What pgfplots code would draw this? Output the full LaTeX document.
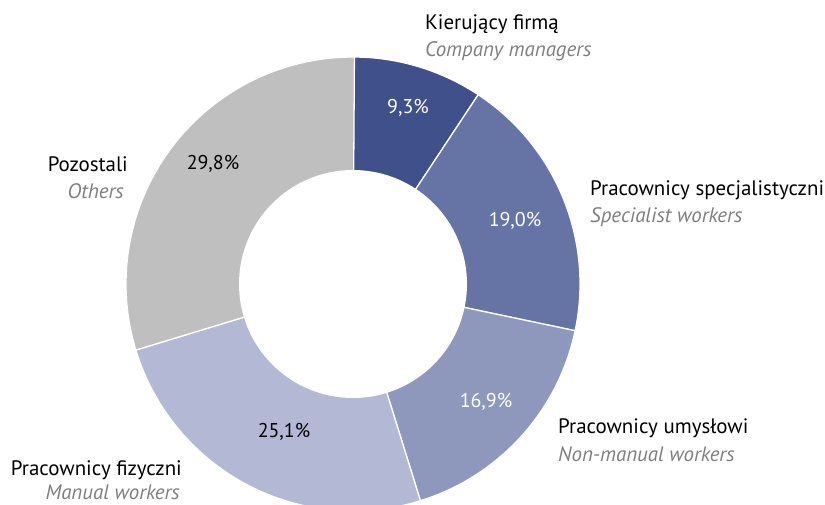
\documentclass[border=0pt]{standalone}
\usepackage{pgfplots}
\usepackage{pgfplotstable}
\pgfplotsset{compat=1.18}
\usepackage{fontspec}
\setmainfont{PT Sans}
\definecolor{c0}{HTML}{3F508B}
\definecolor{c1}{HTML}{6574A5}
\definecolor{c2}{HTML}{8E98BD}
\definecolor{c3}{HTML}{B3B9D5}
\definecolor{c4}{HTML}{BFBFBF}
\definecolor{subgray}{HTML}{7F7F7F}
\pgfplotstableread{
value
9.3
19.0
16.9
25.1
29.8
}\shares
\begin{document}
\begin{tikzpicture}[font=\fontsize{21}{24}\selectfont]
\begin{axis}[
  width=825bp, height=505bp, scale only axis,
  xmin=0, xmax=825, ymin=0, ymax=505,
  hide axis, clip=true,
]
\addplot[draw=none] coordinates {(0,0) (825,505)};
\xdef\cum{0}
\pgfplotsinvokeforeach{0,...,4}{
  \pgfplotstablegetelem{#1}{value}\of\shares
  \pgfmathsetmacro\va{90-3.6*\cum}
  \pgfmathsetmacro\cumn{\cum+\pgfplotsretval}
  \pgfmathsetmacro\vb{90-3.6*\cumn}
  \xdef\cum{\cumn}
  \edef\tmp{\noexpand\filldraw[fill=c#1,draw=white,line width=1.3pt] (axis cs:353,221) -- ++(\va:227bp) arc[start angle=\va,end angle=\vb,radius=227bp] -- cycle;}
  \tmp
}
\fill[white] (axis cs:353,221) circle[radius=114bp];
% percentage labels
\begin{scope}[font=\fontsize{20}{23}\selectfont]
\node[white] at (axis cs:408,397) {9,3\%};
\node[white] at (axis cs:515,284) {19,0\%};
\node[white] at (axis cs:486,103) {16,9\%};
\node[black] at (axis cs:284,73) {25,1\%};
\node[black] at (axis cs:213,341) {29,8\%};
\end{scope}
% category labels
\node[anchor=base west, inner sep=0pt] at (axis cs:425,475) {Kierujący firmą};
\node[anchor=base west, inner sep=0pt, subgray] at (axis cs:425,448) {\itshape Company managers};
\node[anchor=base west, inner sep=0pt] at (axis cs:590,309) {Pracownicy specjalistyczni};
\node[anchor=base west, inner sep=0pt, subgray] at (axis cs:590,282) {\itshape Specialist workers};
\node[anchor=base west, inner sep=0pt] at (axis cs:558,71) {Pracownicy umysłowi};
\node[anchor=base west, inner sep=0pt, subgray] at (axis cs:558,43) {\itshape Non-manual workers};
\node[anchor=base east, inner sep=0pt] at (axis cs:182,30) {Pracownicy fizyczni};
\node[anchor=base east, inner sep=0pt, subgray] at (axis cs:180,6) {\itshape Manual workers};
\node[anchor=base east, inner sep=0pt] at (axis cs:128,333) {Pozostali};
\node[anchor=base east, inner sep=0pt, subgray] at (axis cs:124,306) {\itshape Others};
\end{axis}
\pgfresetboundingbox
\useasboundingbox (current axis.south west) rectangle (current axis.north east);
\end{tikzpicture}
\end{document}
